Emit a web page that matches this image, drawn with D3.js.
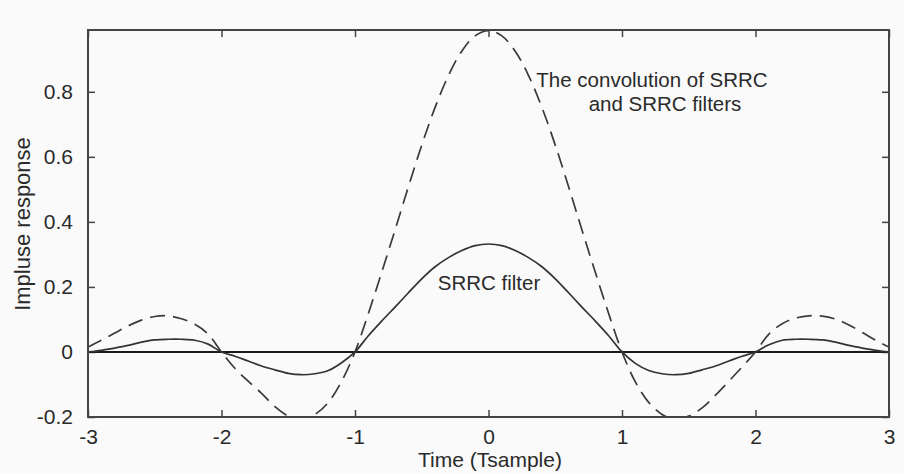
<!DOCTYPE html>
<html>
<head>
<meta charset="utf-8">
<script src="https://cdn.jsdelivr.net/npm/d3@7"></script>
<style>
  html, body { margin: 0; padding: 0; background: #fafafa; }
  svg { display: block; }
  text { font-family: "Liberation Sans", Arial, sans-serif; fill: #2a2a2a; }
</style>
</head>
<body>
<svg id="chart" width="904" height="473"></svg>
<script>
// ---- data ----
const timeSamples = [
  -3.0, -2.9, -2.8, -2.7, -2.6, -2.5, -2.4, -2.3, -2.2, -2.1,
  -2.0, -1.9, -1.8, -1.7, -1.6, -1.5, -1.4, -1.3, -1.2, -1.1,
  -1.0, -0.9, -0.8, -0.7, -0.6, -0.5, -0.4, -0.3, -0.2, -0.1,
   0.0,
   0.1,  0.2,  0.3,  0.4,  0.5,  0.6,  0.7,  0.8,  0.9,  1.0,
   1.1,  1.2,  1.3,  1.4,  1.5,  1.6,  1.7,  1.8,  1.9,  2.0,
   2.1,  2.2,  2.3,  2.4,  2.5,  2.6,  2.7,  2.8,  2.9,  3.0
];
const srrcFilter = [
   0.000,  0.005,  0.012,  0.020,  0.030,  0.037,  0.039,  0.039,  0.036,  0.024,
   0.000, -0.013, -0.028, -0.043, -0.055, -0.066, -0.070, -0.067, -0.057, -0.033,
   0.000,  0.050,  0.095,  0.138,  0.182,  0.225,  0.262,  0.290,  0.312,  0.327,
   0.332,
   0.327,  0.312,  0.290,  0.262,  0.225,  0.182,  0.138,  0.095,  0.050,  0.000,
  -0.035, -0.057, -0.067, -0.070, -0.066, -0.055, -0.043, -0.028, -0.013,  0.000,
   0.022,  0.036,  0.039,  0.039,  0.037,  0.030,  0.020,  0.012,  0.005,  0.000
];
const srrcConvolution = [
   0.015,  0.036,  0.058,  0.080,  0.098,  0.109,  0.111,  0.102,  0.085,  0.055,
   0.000, -0.050, -0.090, -0.127, -0.168, -0.197, -0.206, -0.192, -0.155, -0.090,
   0.000,  0.118,  0.245,  0.375,  0.508,  0.636,  0.752,  0.850,  0.925,  0.972,
   0.988,
   0.972,  0.925,  0.850,  0.752,  0.636,  0.508,  0.375,  0.245,  0.118,  0.000,
  -0.092, -0.155, -0.192, -0.206, -0.197, -0.172, -0.133, -0.090, -0.046,  0.000,
   0.055,  0.087,  0.104,  0.111,  0.110,  0.101,  0.083,  0.060,  0.036,  0.015
];
const xTicks = [-3, -2, -1, 0, 1, 2, 3];
const xTickLabels = ["-3", "-2", "-1", "0", "1", "2", "3"];
const yTicks = [-0.2, 0, 0.2, 0.4, 0.6, 0.8];
const yTickLabels = ["-0.2", "0", "0.2", "0.4", "0.6", "0.8"];
const xDomain = [-3, 3];
const yDomain = [-0.2, 0.99];
const xLabel = "Time (Tsample)";
const yLabel = "Impluse response";
const annotConvLines = ["The convolution of SRRC", "and SRRC filters"];
const annotSrrc = "SRRC filter";

// ---- layout ----
const svg = d3.select("#chart");
const L = 88, R = 889, T = 30, B = 417;
const x = d3.scaleLinear().domain(xDomain).range([L, R]);
const y = d3.scaleLinear().domain(yDomain).range([B, T]);

svg.append("defs").append("clipPath").attr("id", "plotClip")
  .append("rect").attr("x", L).attr("y", T).attr("width", R - L).attr("height", B - T);

const axisColor = "#444";

// bottom axis with labels
const gx = svg.append("g").attr("transform", `translate(0,${B})`)
  .call(d3.axisBottom(x).tickValues(xTicks).tickSize(-7).tickPadding(12)
    .tickFormat((d, i) => xTickLabels[i]));
gx.select(".domain").remove();
gx.selectAll("line").attr("stroke", axisColor).attr("stroke-width", 1.5);
gx.selectAll("text").style("font-size", "21px").attr("fill", "#2a2a2a")
  .attr("font-family", "'Liberation Sans', Arial, sans-serif");

// top axis ticks
const gxt = svg.append("g").attr("transform", `translate(0,${T})`)
  .call(d3.axisTop(x).tickValues(xTicks).tickSize(-7).tickFormat(""));
gxt.select(".domain").remove();
gxt.selectAll("line").attr("stroke", axisColor).attr("stroke-width", 1.5);

// left axis with labels
const gy = svg.append("g").attr("transform", `translate(${L},0)`)
  .call(d3.axisLeft(y).tickValues(yTicks).tickSize(-7).tickPadding(15)
    .tickFormat((d, i) => yTickLabels[i]));
gy.select(".domain").remove();
gy.selectAll("line").attr("stroke", axisColor).attr("stroke-width", 1.5);
gy.selectAll("text").style("font-size", "21px").attr("fill", "#2a2a2a")
  .attr("font-family", "'Liberation Sans', Arial, sans-serif");

// right axis ticks
const gyr = svg.append("g").attr("transform", `translate(${R},0)`)
  .call(d3.axisRight(y).tickValues(yTicks).tickSize(-7).tickFormat(""));
gyr.select(".domain").remove();
gyr.selectAll("line").attr("stroke", axisColor).attr("stroke-width", 1.5);

// zero line
svg.append("line")
  .attr("x1", x(xDomain[0])).attr("x2", x(xDomain[1]))
  .attr("y1", y(0)).attr("y2", y(0))
  .attr("stroke", "#1a1a1a").attr("stroke-width", 2);

// curves
const line = d3.line().curve(d3.curveCatmullRom.alpha(0.5));
const plot = svg.append("g").attr("clip-path", "url(#plotClip)");

plot.append("path")
  .datum(timeSamples.map((t, i) => [x(t), y(srrcConvolution[i])]))
  .attr("d", line)
  .attr("fill", "none").attr("stroke", "#3a3a3a").attr("stroke-width", 1.7)
  .attr("stroke-dasharray", "15,8");

plot.append("path")
  .datum(timeSamples.map((t, i) => [x(t), y(srrcFilter[i])]))
  .attr("d", line)
  .attr("fill", "none").attr("stroke", "#333").attr("stroke-width", 1.7);

// frame
svg.append("rect").attr("x", L).attr("y", T).attr("width", R - L).attr("height", B - T)
  .attr("fill", "none").attr("stroke", axisColor).attr("stroke-width", 2);

// axis titles
svg.append("text").attr("x", 490).attr("y", 467).attr("text-anchor", "middle")
  .style("font-size", "21px").text(xLabel);
svg.append("text").attr("transform", "translate(30,224) rotate(-90)")
  .attr("text-anchor", "middle").style("font-size", "22px").text(yLabel);

// annotations
svg.append("text").attr("x", 652).attr("y", 87).attr("text-anchor", "middle")
  .style("font-size", "20.5px").text(annotConvLines[0]);
svg.append("text").attr("x", 665).attr("y", 111).attr("text-anchor", "middle")
  .style("font-size", "20.5px").text(annotConvLines[1]);
svg.append("text").attr("x", 489).attr("y", 290).attr("text-anchor", "middle")
  .style("font-size", "20.5px").text(annotSrrc);
</script>
</body>
</html>
